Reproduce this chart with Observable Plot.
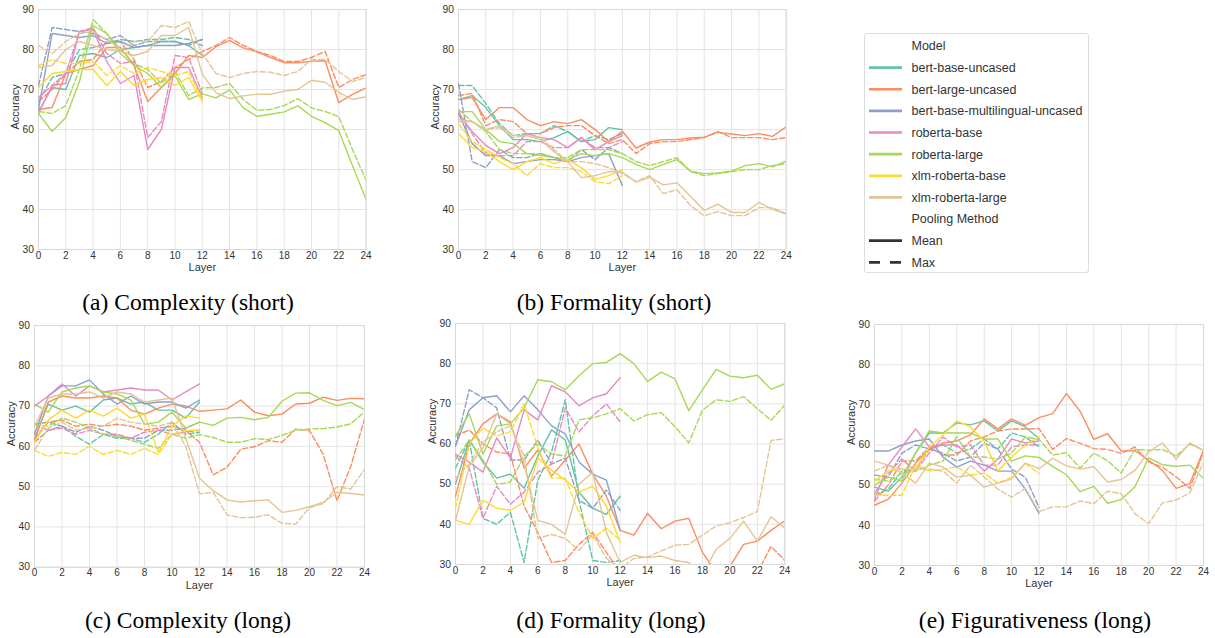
<!DOCTYPE html>
<html><head><meta charset="utf-8">
<script src="https://cdn.jsdelivr.net/npm/d3@7"></script>
<script src="https://cdn.jsdelivr.net/npm/@observablehq/plot@0.6"></script>
<style>
html,body{margin:0;padding:0;background:#fff;}
body{width:1215px;height:638px;position:relative;overflow:hidden;font-family:"Liberation Sans",Arial,sans-serif;}
.panel{position:absolute;overflow:visible;}
.caption{position:absolute;font-family:"Liberation Serif","Times New Roman",serif;font-size:23.5px;color:#000;transform:translateX(-50%);white-space:nowrap;line-height:28px;}
.legend{position:absolute;left:864px;top:33px;width:225px;height:240px;border:1px solid #dedede;border-radius:3px;box-sizing:border-box;}
</style></head><body>
<script>
// ---- categories ----
const models = ["bert-base-uncased","bert-large-uncased","bert-base-multilingual-uncased","roberta-base","roberta-large","xlm-roberta-base","xlm-roberta-large"];
const colors = ["#66c2a5","#fc8d62","#8da0cb","#e78ac3","#a6d854","#ffd92f","#e5c494"];
const poolings = ["Mean","Max"];
const xTicks = [0,2,4,6,8,10,12,14,16,18,20,22,24];
const yTicks = [30,40,50,60,70,80,90];
const captions = ["(a) Complexity (short)","(b) Formality (short)","(c) Complexity (long)","(d) Formality (long)","(e) Figurativeness (long)"];

// ---- (a) Complexity (short) ----  rows follow `models`, index = layer
const complexityShortMean = [
  [64.5,70.5,70,78.5,79,78,80,80.5,81,82,82,81,78.5],
  [65,65.5,74,75,76,80.5,80.5,76,67,70.5,74,78.5,78,80.7,82.3,80.4,79.4,78,76.7,76.7,77.1,77.2,66.7,68.8,70.4],
  [65,84,83.5,83,83.5,81.5,82,80.5,81,81,81,81.5,82.5],
  [64,71,71.5,84.5,85,77,71.5,73.5,55,60,75.5,75.5,68],
  [64,59.5,63,72,86,84,79,76,74,70.5,73.5,67.5,68.9,67.9,69.9,65.4,63.3,63.8,64.4,65.9,63.3,61.7,59.7,51,42.5],
  [70.5,74,74.5,75,75,71,74.5,71,72.5,73,71,73,67],
  [75.5,76,80,82,81,80,79.5,78.5,79.5,83.5,83.5,85.5,73.8,69.2,67.7,68.4,68.8,68.8,69.6,70,72.3,71.8,69.3,67.5,68.2]
];
const complexityShortMax = [
  [67,73,74,80,80.5,81.5,82.5,82,82.5,82.5,83,82.5,81],
  [67,70,74,77,77.5,82,82,77.5,70.5,72,75.5,77.5,79.5,81,83,81,79.5,78.5,77,77,78,79.5,70.5,72.5,73.7],
  [71,85.5,85,84.5,84,82.5,83.5,81,82,82,82,81,82.5],
  [68,71,74,84.5,85.5,79,76.5,77,58,62,78.5,78,69],
  [64.5,64,66,75,87.5,84,80,76.5,75,71.5,74.5,68.5,70.4,70.5,71.5,67.5,64.8,65,66,67.7,65.4,64.5,63.2,55,47.3],
  [76,77.5,76.5,76.5,77,73.5,76,74,75.5,74.5,73.5,74.5,67.5],
  [81,79,82,84,84.5,82.5,80,82,82,86,85.5,87,79,74,73,74,74.5,74.3,73.5,74.5,77.5,77.5,74.5,72,73]
];
// ---- (b) Formality (short) ----
const formalityShortMean = [
  [67.5,68.5,65.5,61,57.5,57.5,57,58,59.5,57,57.5,60.5,60],
  [67.5,68,62.5,65.5,65.5,62.5,61,62,61.5,62.5,60,57,59.6,55.4,56.9,57.5,57.5,57.9,58.1,59.3,58.9,58.5,59,58.3,60.7],
  [64,56.5,53.5,53.5,51.5,52,52.5,52.5,52,53,53.5,54,46],
  [64,59.5,56,54,55.5,59,58,57.5,55.5,58,55,57,58.5],
  [64.5,64.5,60,57,56.5,54,53.5,53,52.5,54,53.5,54,53,51.3,50,51.3,52.5,49.6,49,49.2,49.6,51,51.5,50.7,52.1],
  [59,55.5,54.5,52,50,52,53,51.5,52.5,50.5,47.5,48.5,50],
  [62,62,60,61,58.5,58.5,57.5,54.5,52,48,48.5,49.5,49.4,46.9,48.1,46.2,46.7,43.3,39.8,41.4,39.3,39.3,41.8,40.1,38.9]
];
const formalityShortMax = [
  [71,71,66.5,61.5,58.5,59,59,61,59.5,57,58.5,57.5,59],
  [68.5,69,61,62.5,62,59,59,60.5,61,61,58.5,56.5,57.5,54,56.5,57,57,57.5,58,59.5,58,58,58,57.5,58],
  [71.5,52,50.5,55,53,53,54,53,52,55,52.5,55.5,54],
  [64.5,59,54,53.5,53.5,57,57,55.5,55.5,58,55.5,55.5,57],
  [65,62,59.5,55,54,54,54,53,53,55,55,55,54,52,51,52,53,49.5,48.5,49,49.5,50,50,51,51.5],
  [61.5,57,55,53,51.5,48.5,51.5,50.5,50.5,49.5,47,46.5,48.5],
  [62.5,62,60,60.5,58,58.5,58,55,52,52,51.5,50.5,49,47,48.5,44,45,41,38.5,39.5,38.5,38.5,40.5,40.5,39]
];
// ---- (c) Complexity (long) ----
const complexityLongMean = [
  [62,70.5,69,70,68.5,71.5,72,70.5,71,69,69,67,71],
  [61.5,71,72.5,72,72,72.5,72,69,68,69.5,70.5,70,68.7,69,69.3,71.5,68.5,67.6,68,70.5,70.7,72.2,71.4,71.9,71.8],
  [63,72.5,75,75,76.5,73,70.5,72.5,70.5,71,71,69.5,71.5],
  [70,72.5,75.5,72.5,75,73.5,74,74.5,74,74,71.5,73.5,75.5],
  [70.5,68.5,73.5,74.5,75,73.5,73,71.5,65.5,66,68.5,64.5,66,65.2,67,67.2,66.6,67.2,71.2,73.2,73.3,71.4,70.1,70.9,69.1],
  [61,66.5,69,67,69,67.5,69.5,67,68,58.5,65,67.5,67],
  [65,72,73,73,73.5,72,73.5,73,71,71.5,72,62,52.1,49,46.7,46.2,46.5,46.7,43.6,44.1,45,46.1,48.6,48.3,47.9]
];
const complexityLongMax = [
  [65.5,66,65,62.5,60.5,63,62,62,61,63,66,63,63.5],
  [62,66,66.5,65,65.5,65,65.5,65,64,64.5,65,64,61,52.9,54.8,59.3,59.9,61.4,61,64.3,63.9,58,46.5,55,66.8],
  [61,64,65,63.5,65,64,62.5,62,62,64,64,64.5,66],
  [65.5,64,64.5,63,64,63,63,62,63.5,64,63,63.5,64],
  [65.5,65,67,66,64.5,63,62.5,61.5,60.5,59.5,63,62,62.9,62.2,61,61,61.9,61.7,62.7,64,64.3,64.4,64.8,65.6,68.5],
  [59,57.5,58.5,58,60,58,59,58,59.5,58,63,64,64],
  [59,64.5,66,64,64.5,65,67,66,65.5,65,66,60,48.2,48.6,43,42.3,42.4,43,40.9,40.7,44.8,45.8,50,49.4,54.3]
];
// ---- (d) Formality (long) ----
const formalityLongMean = [
  [50,61,55.5,51.5,52.5,49,57,63.5,61,48,44,42.5,47],
  [47,60,65,67.5,65.5,54,58.5,52,56,60,52.5,47,38.5,37.3,42.7,38.9,40.8,41.5,33,28,29.5,35,35.8,38.5,40.9],
  [59.5,68.5,71.5,72,68,72,68.5,64.5,62.5,55.5,52.5,51,38.5],
  [57.5,55.5,53,61.5,56.5,68.5,66,74.5,73,69.5,71.5,72.5,76.5],
  [62,67.5,57.5,64.5,65,69,76,75.5,73.5,77,80,80.3,82.5,80,75.6,77.9,76.2,68.3,73.5,78.6,76.9,76.5,77.1,73.6,75],
  [41,40,46,44,43.5,45.5,56.5,53.5,51,48,49.5,44.5,35.5],
  [41,54.5,59,67.5,65,55,41,40,37.5,50,53,38,30.5,32.3,31.7,32.1,31,30.5,27.5,33.8,36.5,40.8,35.8,41.9,39]
];
const formalityLongMax = [
  [54,61,41.5,40,43,30.5,51,58,71,46,31,30.5,31],
  [62,63.5,60,58,57.5,44.5,38,30.5,31,35,38,33,28,26,26,26,26,26,26,26,26,26,28,34.5,31],
  [59.5,73.5,71.5,69,56,56,61,55,56.5,46,44,48.5,43.5],
  [57,54,41.5,49.5,45,48,53,55,69,63,67,70,65.5],
  [56,61,56,50,50.5,57,60,57.5,57,66,66.5,67.5,68.8,65.7,67.3,67.8,64.3,60.3,68.4,71,70.6,71.8,68.8,65.9,69.7],
  [44,60,64,62,63,70,59,51.5,51.5,43,36.5,39,36],
  [51.5,55,60.5,63,64.5,57,36.5,37.5,36.5,33.5,37.5,31.5,29,31.5,31.9,33.4,34.8,35,37.3,39.6,40.4,41.7,43.2,60.9,61.3]
];
// ---- (e) Figurativeness (long) ----
const figurativenessLongMean = [
  [49.5,48.5,52,58,63,63,65.5,65,66,63.5,66,64.5,61.6],
  [45,46.5,50.5,55.5,59,60.5,61,62.5,66.5,64,66.5,64.9,66.8,67.8,72.8,68.4,61.4,62.8,58.5,58.6,56.2,53.7,49.2,50.4,58.7],
  [58.5,58.5,60,61,61.5,57,54.5,56,55,53.5,53.5,49,43],
  [46.5,55,59.5,64,59.5,60,60,57,53.5,56.5,61.5,60.5,61],
  [50,52,51,58,63.5,63,63,63,61.5,61.5,56,57.3,56.9,54.7,52.6,48.4,49.7,45.5,46.4,49.6,56.8,55.1,54.7,55,51.7],
  [51,53.5,54,54,59.5,62.5,66,64.5,61,53.5,57,60,62],
  [56,55,53,50.5,55.5,54.5,52,52.5,49.5,50.5,51.5,55.5,54.1,56.7,54.8,54,54.6,50.8,51.4,53.7,58.3,60.5,56.5,60.5,58.7]
];
const figurativenessLongMax = [
  [47.5,49,53.5,54,59,60,58,59,61.5,59,63,62,59.5],
  [46,50,56,56,59.5,57.5,57.5,61,62,63.5,64,64,64.1,58.9,61.6,60.4,59.1,58.9,57.9,59.5,55.8,54.5,52.1,49.2,58.3],
  [52.5,52,58,60,59,58,56,57,60.5,59,54,52,44.5],
  [48,53,56.5,53.5,58,62,59.5,60,55,55,59.5,60,60],
  [51.5,51,53,53.5,55,56,62,57,57,56.5,58,62,61.4,57.5,58.1,54.2,58,56.1,53,58.9,58.7,58.9,57.3,60.2,58.7],
  [47.5,47.5,47.5,55,53.5,54,54.5,52.5,53,50.5,52,55.4,52.9],
  [53.5,55,54,54,54,53.5,50.5,55,52,49,47,49.2,43.4,44.6,44.6,46.1,45.4,48.5,47.9,42.9,40.4,45.6,46.3,48.1,55.6]
];

// ---- layout ----
const GRID = "#e4e4e4", FRAME = "#d8d8d8", TEXT = "#333";
const FONT = '"Liberation Sans", Arial, sans-serif';
const panels = [
  {mean: complexityShortMean, max: complexityShortMax, x0: 37.7, x24: 365.3, y90: 9.3, y30: 249.3, cx: 188, cy: 302},
  {mean: formalityShortMean, max: formalityShortMax, x0: 458.3, x24: 786, y90: 8.8, y30: 249, cx: 614, cy: 302},
  {mean: complexityLongMean, max: complexityLongMax, x0: 34.3, x24: 364.3, y90: 325, y30: 566.7, cx: 188, cy: 620},
  {mean: formalityLongMean, max: formalityLongMax, x0: 455, x24: 784.3, y90: 323.3, y30: 564.3, cx: 611, cy: 620},
  {mean: figurativenessLongMean, max: figurativenessLongMax, x0: 874.3, x24: 1203.3, y90: 324.3, y30: 565.3, cx: 1035, cy: 620}
];

function buildPanel(p, idx) {
  const mL = 44, mT = 10, mR = 12, mB = 34;
  const w = p.x24 - p.x0, h = p.y30 - p.y90;
  const marks = [
    Plot.gridX(xTicks, {stroke: GRID, strokeOpacity: 1, strokeWidth: 1}),
    Plot.gridY(yTicks, {stroke: GRID, strokeOpacity: 1, strokeWidth: 1}),
    Plot.frame({stroke: FRAME, strokeWidth: 1}),
    Plot.axisX(xTicks, {tickSize: 0, tickPadding: 2, label: null, fontSize: 10}),
    Plot.axisY(yTicks, {tickSize: 0, tickPadding: 4.5, label: null, fontSize: 10.3}),
    Plot.text(["Layer"], {frameAnchor: "bottom", dy: 21.5, text: d => d, fontSize: 11, fill: TEXT}),
    Plot.text(["Accuracy"], {frameAnchor: "left", dx: -23, rotate: -90, text: d => d, fontSize: 11, fill: TEXT})
  ];
  models.forEach((m, i) => {
    const meanRows = p.mean[i].map((v, j) => ({layer: j, acc: v, model: m, pooling: poolings[0]}));
    const maxRows = p.max[i].map((v, j) => ({layer: j, acc: v, model: m, pooling: poolings[1]}));
    marks.push(Plot.line(meanRows, {x: "layer", y: "acc", stroke: colors[i], strokeWidth: 1.4, clip: true}));
    marks.push(Plot.line(maxRows, {x: "layer", y: "acc", stroke: colors[i], strokeWidth: 1.4, strokeDasharray: "5.5,2.5", clip: true}));
  });
  const svg = Plot.plot({
    width: w + mL + mR, height: h + mT + mB,
    marginLeft: mL, marginTop: mT, marginRight: mR, marginBottom: mB,
    x: {domain: [0, 24]}, y: {domain: [30, 90]},
    style: {fontFamily: FONT, fontSize: "11px", color: TEXT, background: "transparent", overflow: "visible"},
    marks
  });
  svg.classList.add("panel");
  svg.style.position = "absolute";
  svg.style.left = (p.x0 - mL) + "px";
  svg.style.top = (p.y90 - mT) + "px";
  document.body.appendChild(svg);
  const cap = document.createElement("div");
  cap.className = "caption";
  cap.textContent = captions[idx];
  cap.style.left = p.cx + "px";
  cap.style.top = (p.cy - 14) + "px";
  document.body.appendChild(cap);
}
panels.forEach(buildPanel);

// ---- legend ----
const leg = document.createElement("div");
leg.className = "legend";
document.body.appendChild(leg);
const ls = d3.select(leg).append("svg").attr("width", 223).attr("height", 238)
  .style("font-family", FONT).style("font-size", "12.5px");
const rows = [{t: "Model"}]
  .concat(models.map((m, i) => ({t: m, c: colors[i]})))
  .concat([{t: "Pooling Method"}, {t: poolings[0], c: "#333"}, {t: poolings[1], c: "#333", dash: "11,10"}]);
rows.forEach((r, i) => {
  const y = 12 + i * 21.63;
  if (r.c) {
    ls.append("line").attr("x1", 4).attr("x2", 37).attr("y1", y).attr("y2", y)
      .attr("stroke", r.c).attr("stroke-width", 2.7).attr("stroke-dasharray", r.dash || null);
  }
  ls.append("text").attr("x", 46.5).attr("y", y).attr("dy", "0.35em").attr("fill", TEXT).text(r.t);
});
</script>
</body></html>
